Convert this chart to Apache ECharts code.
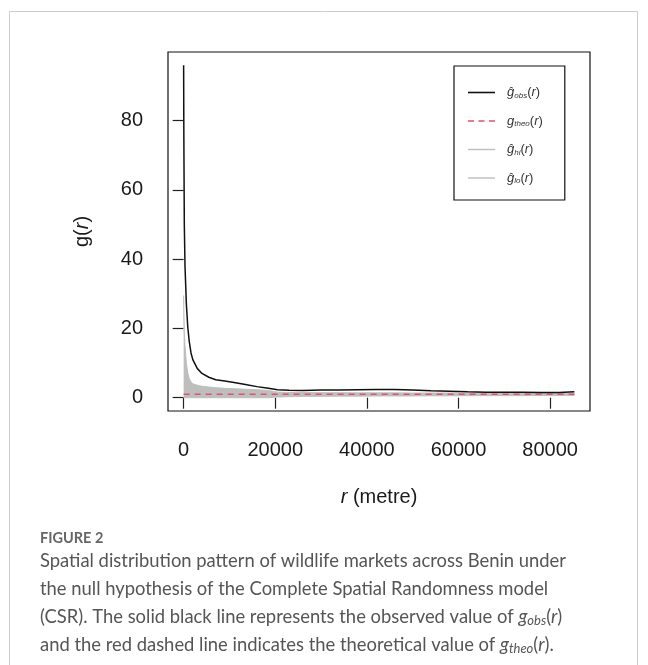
<!DOCTYPE html>
<html>
<head>
<meta charset="utf-8">
<script src="https://cdn.jsdelivr.net/npm/echarts@6/dist/echarts.min.js"></script>
<style>
html,body{margin:0;padding:0;background:#fff;}
#chart{width:648px;height:665px;}
</style>
</head>
<body>
<div id="chart"></div>
<script>
// ---- data ----
const rValues = [0, 50, 150, 300, 600, 900, 1200, 1600, 2000, 3000, 4000, 5500, 7000, 9000, 11000, 13500, 16000, 18500, 20500, 23000, 26000, 30000, 34000, 38000, 42000, 46000, 50000, 54000, 58000, 62000, 66000, 70000, 74000, 78000, 82000, 85300];
const gObs = [96, 75, 50, 38, 27, 20.5, 16.5, 13, 11, 8.4, 7.0, 5.9, 5.2, 4.8, 4.4, 3.8, 3.2, 2.7, 2.3, 2.15, 2.1, 2.2, 2.25, 2.3, 2.35, 2.35, 2.2, 2.0, 1.85, 1.7, 1.6, 1.55, 1.55, 1.5, 1.5, 1.75];
const gHi = [29.5, 25, 19, 15, 10, 7.2, 5.6, 4.6, 4.0, 3.6, 3.3, 3.1, 2.9, 2.7, 2.6, 2.45, 2.3, 2.1, 1.6, 1.5, 1.5, 1.45, 1.45, 1.4, 1.4, 1.4, 1.35, 1.35, 1.35, 1.3, 1.3, 1.3, 1.3, 1.3, 1.3, 1.3];
const gLo = [0, 0, 0, 0, 0, 0, 0, 0, 0, 0, 0, 0, 0, 0, 0, 0, 0, 0, 0.2, 0.3, 0.35, 0.4, 0.45, 0.45, 0.5, 0.5, 0.5, 0.55, 0.55, 0.6, 0.6, 0.6, 0.6, 0.65, 0.65, 0.65];
const gTheo = 1;
const xTicks = [0, 20000, 40000, 60000, 80000];
const yTicks = [0, 20, 40, 60, 80];
const legendNames = ['obs', 'theo', 'hi', 'lo'];

// R-style 4% axis extension
const xr = [Math.min(...rValues), Math.max(...rValues)];
const yr = [Math.min(...gLo), Math.max(...gObs)];
const xPad = (xr[1] - xr[0]) * 0.04, yPad = (yr[1] - yr[0]) * 0.04;

const pairs = (ys) => rValues.map((r, i) => [r, ys[i]]);
const theoVals = rValues.map(() => gTheo);

const GREY = '#bebebe';
const RED = '#df536b';
const AX_FONT = 'Liberation Sans, Arial, sans-serif';

const chart = echarts.init(document.getElementById('chart'), null, {renderer: 'canvas'});

const legendRich = {
  sp: {width: 7},
  g: {fontFamily: AX_FONT, fontStyle: 'italic', fontSize: 13, color: '#333'},
  s: {fontFamily: AX_FONT, fontStyle: 'italic', fontSize: 8, color: '#333', verticalAlign: 'bottom', padding: [6, 0, 0, 0]},
  p: {fontFamily: AX_FONT, fontSize: 13, color: '#333'},
  i: {fontFamily: AX_FONT, fontStyle: 'italic', fontSize: 13, color: '#333'}
};
const legendText = {
  obs: '{sp|}{g|ĝ}{s|obs}{p|(}{i|r}{p|)}',
  theo: '{sp|}{g|g}{s|theo}{p|(}{i|r}{p|)}',
  hi: '{sp|}{g|ĝ}{s|hi}{p|(}{i|r}{p|)}',
  lo: '{sp|}{g|ĝ}{s|lo}{p|(}{i|r}{p|)}'
};
const legendIcons = {
  obs: {icon: 'path://M0,0h27v1.6h-27z', color: '#111'},
  theo: {icon: 'path://M0,0h6v1.6h-6z M10.5,0h6v1.6h-6z M21,0h6v1.6h-6z', color: RED},
  hi: {icon: 'path://M0,0h27v1.4h-27z', color: GREY},
  lo: {icon: 'path://M0,0h27v1.4h-27z', color: GREY}
};

const CAP_FONT = 'Lato, "Open Sans", sans-serif';
const CAP_SIZE = 18.4;
const capRich = {
  n: {fontFamily: CAP_FONT, fontSize: CAP_SIZE, color: '#555'},
  it: {fontFamily: CAP_FONT, fontSize: CAP_SIZE, fontStyle: 'italic', color: '#555'},
  sb: {fontFamily: CAP_FONT, fontSize: 13, fontStyle: 'italic', color: '#555', verticalAlign: 'bottom', padding: [8, 0, 0, 0]}
};
const captionLines = [
  '{n|Spatial distribution pattern of wildlife markets across Benin under}',
  '{n|the null hypothesis of the Complete Spatial Randomness model}',
  '{n|(CSR). The solid black line represents the observed value of }{it|g}{sb|obs}{n|(}{it|r}{n|)}',
  '{n|and the red dashed line indicates the theoretical value of }{it|g}{sb|theo}{n|(}{it|r}{n|).}'
];

const option = {
  animation: false,
  backgroundColor: '#fff',
  grid: {left: 168, top: 52, width: 422, height: 359, show: true, borderColor: '#111', borderWidth: 1.2, backgroundColor: 'transparent'},
  xAxis: {
    type: 'value', min: xr[0] - xPad, max: xr[1] + xPad,
    axisLine: {show: false},
    axisTick: {show: true, inside: false, length: 11, customValues: xTicks, lineStyle: {color: '#222', width: 1.2}},
    axisLabel: {customValues: xTicks, margin: 29, fontFamily: AX_FONT, fontSize: 20, color: '#1a1a1a', formatter: v => String(v)},
    splitLine: {show: false},
    name: '{i|r}{n| (metre)}', nameLocation: 'middle', nameGap: 76,
    nameTextStyle: {rich: {i: {fontFamily: AX_FONT, fontStyle: 'italic', fontSize: 20, color: '#1a1a1a'}, n: {fontFamily: AX_FONT, fontSize: 20, color: '#1a1a1a'}}}
  },
  yAxis: {
    type: 'value', min: yr[0] - yPad, max: yr[1] + yPad,
    axisLine: {show: false},
    axisTick: {show: true, inside: false, length: 11, customValues: yTicks, lineStyle: {color: '#222', width: 1.2}},
    axisLabel: {customValues: yTicks, margin: 25, fontFamily: AX_FONT, fontSize: 20, color: '#1a1a1a'},
    splitLine: {show: false},
    name: '{n|g(}{i|r}{n|)}', nameLocation: 'middle', nameRotate: 90, nameGap: 76,
    nameTextStyle: {rich: {i: {fontFamily: AX_FONT, fontStyle: 'italic', fontSize: 20, color: '#1a1a1a'}, n: {fontFamily: AX_FONT, fontSize: 20, color: '#1a1a1a'}}}
  },
  legend: {
    orient: 'vertical', left: 454, top: 66,
    padding: [20, 22, 15, 14],
    borderColor: '#111', borderWidth: 1.2,
    itemWidth: 27, itemHeight: 14, itemGap: 15,
    selectedMode: false,
    data: legendNames.map(n => ({name: n, icon: legendIcons[n].icon, itemStyle: {color: legendIcons[n].color, borderWidth: 0}})),
    formatter: name => legendText[name],
    textStyle: {rich: legendRich}
  },
  graphic: [
    {type: 'rect', silent: true, shape: {x: 9.5, y: 11.5, width: 628, height: 700}, style: {fill: 'none', stroke: '#cccccc', lineWidth: 1}},
    {type: 'text', silent: true, left: 40, top: 531, style: {text: 'FIGURE 2', fontFamily: CAP_FONT, fontWeight: 'bold', fontSize: 14.5, fill: '#666'}}
  ].concat(captionLines.map((t, k) => ({
    type: 'text', silent: true, left: 40, top: 552 + k * 28,
    style: {text: t, rich: capRich, fontFamily: CAP_FONT, fontSize: CAP_SIZE, fill: '#555'}
  }))),
  series: [
    {
      name: 'band', type: 'custom', silent: true, z: 1,
      data: pairs(gHi), encode: {x: 0, y: 1},
      renderItem: (params, api) => {
        if (params.dataIndex !== 0) return null;
        const upper = rValues.map((r, i) => api.coord([r, gHi[i]]));
        const lower = rValues.map((r, i) => api.coord([r, gLo[i]])).reverse();
        return {type: 'polygon', shape: {points: upper.concat(lower)}, style: {fill: GREY, stroke: null}};
      }
    },
    {name: 'hi', type: 'line', data: pairs(gHi), symbol: 'none', lineStyle: {color: GREY, width: 1}, itemStyle: {color: GREY}, z: 2},
    {name: 'lo', type: 'line', data: pairs(gLo), symbol: 'none', lineStyle: {color: GREY, width: 1}, itemStyle: {color: GREY}, z: 2},
    {name: 'theo', type: 'line', data: pairs(theoVals), symbol: 'none', lineStyle: {color: RED, width: 1.5, type: [6, 5]}, itemStyle: {color: RED}, z: 3},
    {name: 'obs', type: 'line', data: pairs(gObs), symbol: 'none', lineStyle: {color: '#111', width: 1.5}, itemStyle: {color: '#111'}, z: 4}
  ]
};
chart.setOption(option);
</script>
</body>
</html>
